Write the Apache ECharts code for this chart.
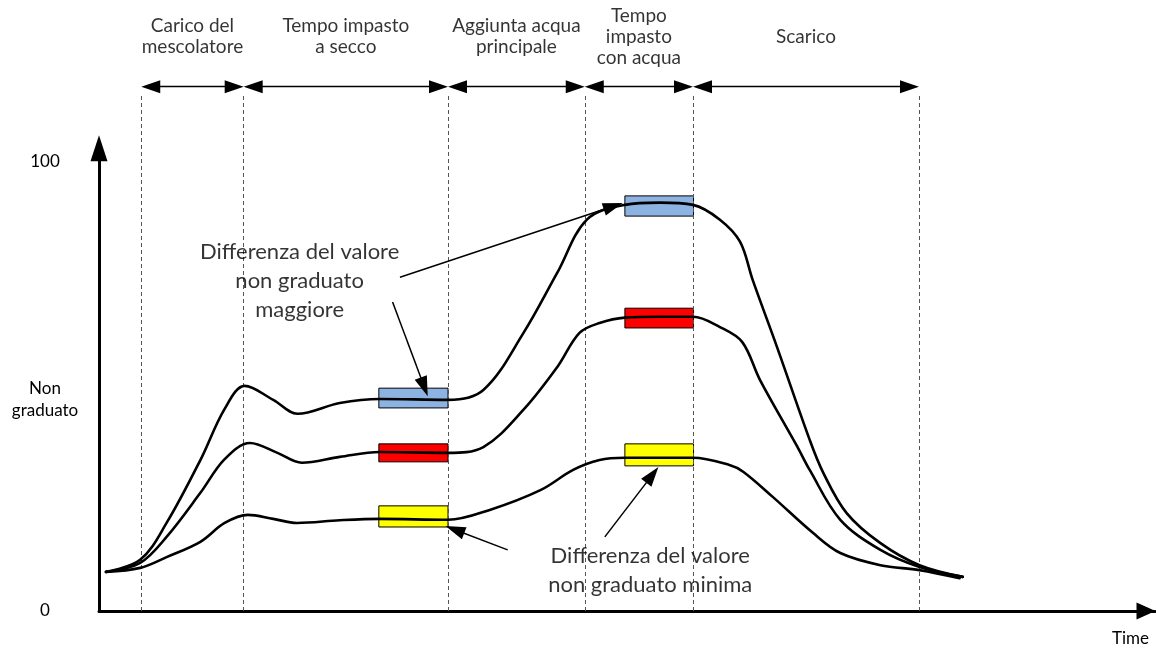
<!DOCTYPE html>
<html>
<head>
<meta charset="utf-8">
<script src="https://cdn.jsdelivr.net/npm/echarts@6/dist/echarts.min.js"></script>
<style>
html, body { margin: 0; padding: 0; background: #fff; }
#chart { width: 1156px; height: 648px; }
</style>
</head>
<body>
<div id="chart"></div>
<script>
// time runs 0..100, value 0..100 (the space above 100 holds the phase header)
const phaseNames = ['Carico del\nmescolatore', 'Tempo impasto\na secco', 'Aggiunta acqua\nprincipale', 'Tempo\nimpasto\ncon acqua', 'Scarico'];
const phaseBounds = [4, 13.7, 33.05, 46, 56.25, 77.65];

const yTickValues = [0, 47, 100];
const yTickLabels = ['0', 'Non\ngraduato', '100'];

// the three mixing curves [time, value]
const curveHigh = [[0.66, 8.7], [3.9, 11.4], [6.4, 19.6], [9.6, 33.6], [11.9, 45.0], [13.8, 50.1], [16.5, 47.0], [18.8, 43.9], [22.8, 46.3], [26.6, 47.2], [33.05, 47.0], [36.4, 49.2], [40.2, 61.9], [43.4, 75.3], [46.2, 87.1], [49.8, 90.4], [53.1, 90.9], [56.25, 90.4], [58.8, 87.1], [60.7, 82.2], [61.9, 73.7], [64.2, 58.8], [67.3, 38.1], [68.6, 30.7], [70.8, 21.8], [74.0, 15.1], [77.7, 10.2], [81.8, 7.6]];
const curveMid = [[0.66, 8.7], [3.9, 10.7], [6.4, 16.5], [9.6, 26.3], [11.9, 33.8], [14.3, 37.4], [16.9, 35.2], [19.2, 33.0], [22.8, 34.3], [26.6, 35.4], [33.05, 35.2], [36.4, 36.5], [40.2, 44.8], [43.4, 54.3], [45.5, 61.9], [47.4, 64.1], [49.8, 65.3], [53.1, 65.5], [56.25, 65.5], [58.8, 63.2], [60.9, 59.9], [62.6, 51.4], [66.1, 36.7], [67.3, 31.4], [70.2, 20.3], [74.0, 13.6], [77.7, 9.8], [81.8, 7.6]];
const curveLow = [[0.66, 8.7], [3.9, 9.6], [6.4, 12.0], [9.6, 15.4], [11.9, 19.6], [14.1, 21.4], [16.5, 20.5], [18.75, 19.6], [22.8, 20.2], [26.6, 20.5], [33.05, 20.3], [37.0, 22.5], [41.8, 26.9], [44.9, 31.4], [47.4, 33.6], [49.8, 34.1], [53.1, 34.1], [56.25, 34.1], [59.7, 32.5], [61.0, 31.0], [63.8, 25.4], [67.6, 17.4], [70.2, 12.9], [74.0, 10.2], [77.7, 9.1], [81.5, 7.3]];

// value bands at the end of dry mixing and during wet mixing [x1, x2, y1, y2]
const boxRanges = [
  [26.5, 33.05, 45.2, 49.6], [26.5, 33.05, 33.2, 37.2], [26.5, 33.05, 18.7, 23.4],
  [49.8, 56.3, 87.9, 92.4], [49.8, 56.3, 63.0, 67.4], [49.8, 56.3, 32.3, 37.2]
];
const boxColors = ['#8db3e2', '#ff0000', '#ffff00', '#8db3e2', '#ff0000', '#ffff00'];

const noteTexts = ['Differenza del valore\nnon graduato\nmaggiore', 'Differenza del valore\nnon graduato minima'];
const notePoints = [[19.0, 73.4], [52.2, 9.1]];
// pointer arrows [from, to]
const noteArrows = [
  [[28.5, 74.3], [48.7, 90.1]],
  [[27.8, 68.8], [30.8, 49.9]],
  [[38.7, 13.6], [33.7, 18.1]],
  [[47.9, 16.5], [52.4, 30.3]]
];

const HEAD_Y = 127.8;   // phase label row
const ARROW_Y = 116.7;  // phase arrow row
const GUIDE_TOP = 115;
const AXIS_TOP = 103;
const GAP = 0.9;

const font = "Lato, 'Noto Sans', sans-serif";

let chart = echarts.init(document.getElementById('chart'));

let curveSeries = [curveHigh, curveMid, curveLow].map((d, i) => ({
  type: 'line',
  name: 'c' + i,
  data: d,
  smooth: 0.35,
  symbol: 'none',
  z: 5,
  lineStyle: { color: '#000', width: 2.6, cap: 'round' }
}));

let option = {
  animation: false,
  grid: { left: 99, right: 1, top: 0, bottom: 37 },
  xAxis: {
    type: 'value',
    min: 0,
    max: 100,
    name: 'Time',
    nameLocation: 'end',
    nameGap: -6,
    nameTextStyle: { align: 'right', verticalAlign: 'top', padding: [19, 0, 0, 0], fontSize: 17, color: '#000', fontFamily: font },
    axisLine: { lineStyle: { color: '#000', width: 3 }, symbol: ['none', 'triangle'], symbolSize: [17, 19], symbolOffset: [0, -9] },
    axisTick: { show: false },
    axisLabel: { show: false },
    splitLine: { show: false }
  },
  yAxis: {
    type: 'value',
    min: 0,
    max: 136,
    axisLine: { show: false },
    axisTick: { show: false },
    splitLine: { show: false },
    axisLabel: {
      customValues: yTickValues,
      formatter: (v) => yTickLabels[yTickValues.indexOf(v)],
      align: 'center',
      margin: 54,
      fontSize: 17,
      lineHeight: 22,
      color: '#000',
      fontFamily: font
    }
  },
  series: [
    {
      // dashed phase boundaries
      type: 'line', data: [], z: 1,
      markLine: {
        silent: true, symbol: 'none', label: { show: false },
        lineStyle: { color: '#555', type: [4, 3], width: 1 },
        data: phaseBounds.map((b) => [{ coord: [b, 0] }, { coord: [b, GUIDE_TOP] }])
      }
    },
    {
      // phase arrows
      type: 'line', data: [], z: 2,
      markLine: {
        silent: true, symbol: ['triangle', 'triangle'], symbolSize: [13, 19], label: { show: false },
        lineStyle: { color: '#000', type: 'solid', width: 1.3 },
        data: phaseBounds.slice(0, -1).map((b, i) => [{ coord: [b + GAP, ARROW_Y] }, { coord: [phaseBounds[i + 1] - GAP, ARROW_Y] }])
      }
    },
    {
      // value axis with arrow head
      type: 'line', data: [], z: 3,
      markLine: {
        silent: true, symbol: ['none', 'triangle'], symbolSize: [17, 26], label: { show: false },
        lineStyle: { color: '#000', type: 'solid', width: 3 },
        data: [[{ coord: [0, 0] }, { coord: [0, AXIS_TOP] }]]
      }
    },
    {
      // coloured bands
      type: 'line', data: [], z: 2,
      markArea: {
        silent: true,
        data: boxRanges.map((r, i) => [
          { coord: [r[0], r[3]], itemStyle: { color: boxColors[i], borderColor: '#000', borderWidth: 1 } },
          { coord: [r[1], r[2]] }
        ])
      }
    },
    ...curveSeries,
    {
      // annotation arrows
      type: 'line', data: [], z: 6,
      markLine: {
        silent: true, symbol: ['none', 'triangle'], symbolSize: [13, 20], label: { show: false },
        lineStyle: { color: '#000', type: 'solid', width: 1.5 },
        data: noteArrows.map((a) => [{ coord: a[0] }, { coord: a[1] }])
      }
    },
    {
      type: 'scatter', silent: true, symbolSize: 0, z: 7,
      data: phaseBounds.slice(0, -1).map((b, i) => [(b + phaseBounds[i + 1]) / 2, HEAD_Y]),
      label: {
        show: true, position: 'inside',
        formatter: (p) => phaseNames[p.dataIndex],
        fontSize: 19, lineHeight: 21, color: '#000', fontFamily: font, align: 'center'
      }
    },
    {
      type: 'scatter', silent: true, symbolSize: 0, z: 7,
      data: notePoints,
      label: {
        show: true, position: 'inside',
        formatter: (p) => noteTexts[p.dataIndex],
        fontSize: 22, lineHeight: 29, color: '#000', fontFamily: font, align: 'center'
      }
    }
  ]
};

chart.setOption(option);
</script>
</body>
</html>
